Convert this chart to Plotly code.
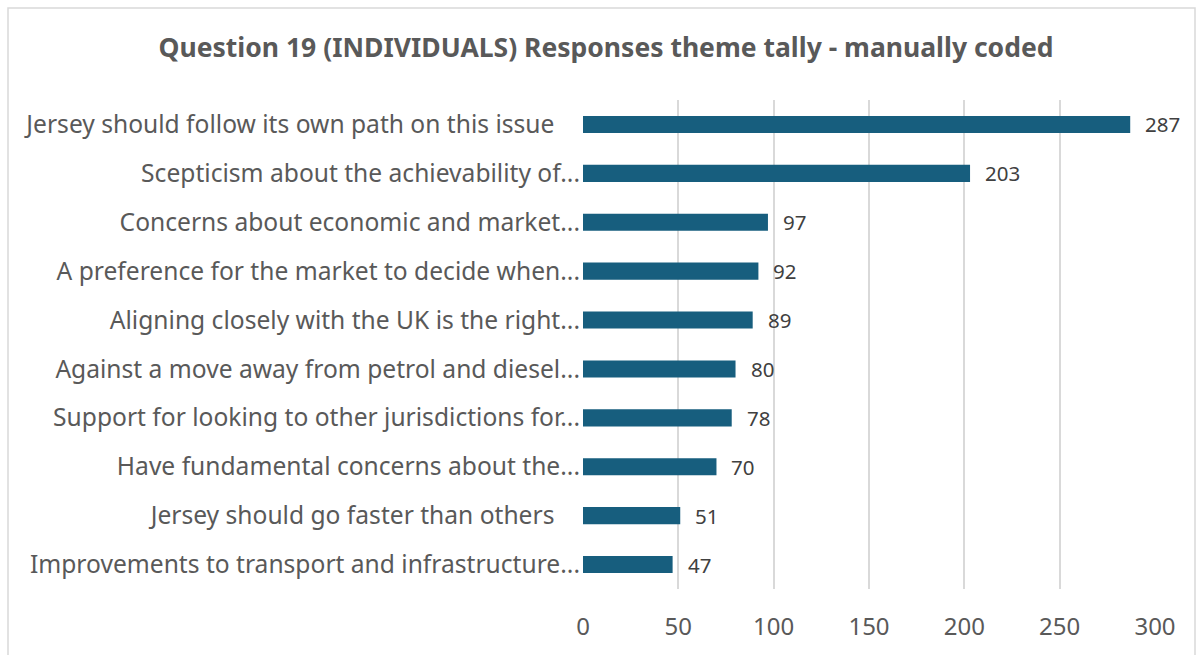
import plotly.graph_objects as go

# Theme tally for Question 19 (individual responses)
themes = [
    "Jersey should follow its own path on this issue\u00a0\u00a0\u00a0\u00a0",
    "Scepticism about the achievability of...",
    "Concerns about economic and market...",
    "A preference for the market to decide when...",
    "Aligning closely with the UK is the right...",
    "Against a move away from petrol and diesel...",
    "Support for looking to other jurisdictions for...",
    "Have fundamental concerns about the...",
    "Jersey should go faster than others\u00a0\u00a0\u00a0\u00a0",
    "Improvements to transport and infrastructure...",
]
counts = [287, 203, 97, 92, 89, 80, 78, 70, 51, 47]
x_ticks = [0, 50, 100, 150, 200, 250, 300]

W, H = 1203, 655
M_L, M_R, M_T, M_B = 583, 48, 100, 66
plot_w = W - M_L - M_R
plot_h = H - M_T - M_B

BAR = "#175E7E"
TXT = "#595959"
FONT = "Noto Sans, Open Sans, Arial, sans-serif"

fig = go.Figure()
fig.add_trace(go.Bar(
    x=counts, y=themes, orientation="h",
    marker=dict(color=BAR, line=dict(width=0)),
    width=0.35, hoverinfo="x+y",
))

# value labels to the right of each bar
for t, v in zip(themes, counts):
    fig.add_annotation(
        x=v, y=t, text=str(v), showarrow=False,
        xanchor="left", yanchor="middle", xshift=13,
        font=dict(family=FONT, size=20.5, color="#404040"),
    )

# light frame around the chart area
def px_x(p):
    return (p - M_L) / plot_w

def px_y(p):
    return (H - M_B - p) / plot_h

fig.add_shape(
    type="rect", xref="paper", yref="paper",
    x0=px_x(8), x1=px_x(1195), y0=px_y(670), y1=px_y(8),
    line=dict(color="#D9D9D9", width=1.5), fillcolor="rgba(0,0,0,0)", layer="below",
)

fig.update_layout(
    width=W, height=H,
    margin=dict(l=M_L, r=M_R, t=M_T, b=M_B, pad=0, autoexpand=False),
    paper_bgcolor="white", plot_bgcolor="white",
    showlegend=False,
    title=dict(
        text="<b>Question 19 (INDIVIDUALS) Responses theme tally - manually coded</b>",
        x=606 / W, xanchor="center", y=1 - 48 / H, yanchor="middle",
        font=dict(family=FONT, size=26.5, color=TXT),
    ),
    xaxis=dict(
        range=[0, 300], tickvals=x_ticks, automargin=False,
        showgrid=True, gridcolor="#D9D9D9", gridwidth=1.5,
        zeroline=False, showline=False,
        ticks="outside", ticklen=0, ticklabelstandoff=16,
        tickfont=dict(family=FONT, size=24, color=TXT),
        fixedrange=True,
    ),
    yaxis=dict(
        autorange="reversed", automargin=False,
        showgrid=False, showline=False, zeroline=False,
        ticks="", ticklabelstandoff=2,
        tickfont=dict(family=FONT, size=24.6, color=TXT),
        fixedrange=True,
    ),
    bargap=0.65,
)

fig.write_html("out.html")
